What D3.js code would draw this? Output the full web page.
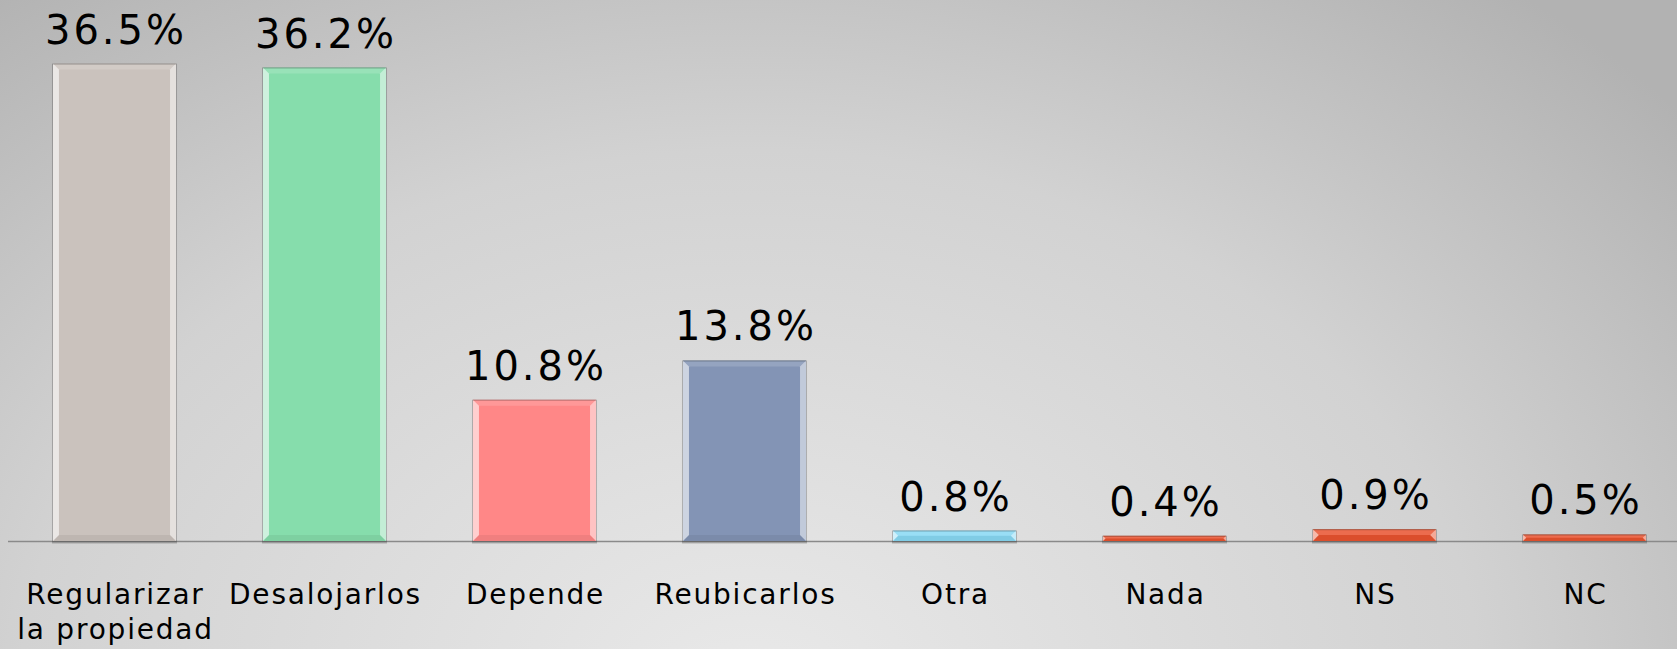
<!DOCTYPE html>
<html>
<head>
<meta charset="utf-8">
<script src="https://cdn.jsdelivr.net/npm/d3@7"></script>
<style>
  html, body { margin: 0; padding: 0; overflow: hidden; }
  svg { display: block; }
</style>
</head>
<body>
<div id="chart"></div>
<script>
var categories = ["Regularizar\nla propiedad", "Desalojarlos", "Depende", "Reubicarlos", "Otra", "Nada", "NS", "NC"];
var values = [36.5, 36.2, 10.8, 13.8, 0.8, 0.4, 0.9, 0.5];
var barColors = ["#cac2bd", "#86ddac", "#ff8787", "#8394b5", "#88d9f4", "#e9532f", "#e9532f", "#e9532f"];

function init() {
    var w = 1677;
    var h = 649;
    var baseY = 541;

    var svg = d3.select("#chart")
        .append("svg")
        .attr("width", w)
        .attr("height", h);

    var defs = svg.append("defs");
    var bg = defs.append("radialGradient")
        .attr("id", "bg")
        .attr("gradientUnits", "userSpaceOnUse")
        .attr("cx", 750).attr("cy", 690)
        .attr("r", 900)
        .attr("gradientTransform", "translate(750,690) scale(1.35,1) translate(-750,-690)");
    bg.append("stop").attr("offset", "0%").attr("stop-color", "#e9e9e9");
    bg.append("stop").attr("offset", "60%").attr("stop-color", "#d2d2d2");
    bg.append("stop").attr("offset", "100%").attr("stop-color", "#b2b2b2");

    svg.append("rect")
        .attr("width", w)
        .attr("height", h)
        .attr("fill", "url(#bg)");

    var data = categories.map(function(c, i) {
        return { cat: c, value: values[i], color: barColors[i] };
    });

    var xScale = d3.scaleBand()
        .domain(categories)
        .range([9.5, 1689.5])
        .paddingInner(0.414)
        .paddingOuter(0.207);

    var yScale = d3.scaleLinear()
        .domain([0, 40])
        .range([baseY, baseY - 40 * 13.08]);

    // axis line
    svg.append("line")
        .attr("x1", 8).attr("x2", w)
        .attr("y1", baseY + 0.5).attr("y2", baseY + 0.5)
        .attr("stroke", "#8a8a8a")
        .attr("stroke-width", 1.5);

    var bars = svg.selectAll("g.bar")
        .data(data)
        .enter()
        .append("g")
        .attr("class", "bar");

    // shadow
    bars.append("rect")
        .attr("x", function(d) { return xScale(d.cat) - 1; })
        .attr("y", function(d) { return yScale(d.value); })
        .attr("width", xScale.bandwidth() + 2)
        .attr("height", function(d) { return baseY - yScale(d.value) + 2.5; })
        .attr("fill", "rgba(0,0,0,0.22)");

    bars.append("rect")
        .attr("x", function(d) { return xScale(d.cat); })
        .attr("y", function(d) { return yScale(d.value); })
        .attr("width", xScale.bandwidth())
        .attr("height", function(d) { return baseY - yScale(d.value); })
        .attr("fill", function(d) { return d.color; });

    // bevel edges
    function bevel(d, side) {
        var x0 = xScale(d.cat), x1 = x0 + xScale.bandwidth();
        var y0 = yScale(d.value), y1 = baseY;
        var b = Math.min(6, (y1 - y0) / 2);
        if (side === "left") return [[x0, y0], [x0 + b, y0 + b], [x0 + b, y1 - b], [x0, y1]];
        if (side === "right") return [[x1, y0], [x1 - b, y0 + b], [x1 - b, y1 - b], [x1, y1]];
        if (side === "top") return [[x0, y0], [x1, y0], [x1 - b, y0 + b], [x0 + b, y0 + b]];
        return [[x0, y1], [x1, y1], [x1 - b, y1 - b], [x0 + b, y1 - b]];
    }
    var bevelStyle = { left: "rgba(255,255,255,0.6)", right: "rgba(255,255,255,0.5)", top: "rgba(255,255,255,0.15)", bottom: "rgba(0,0,0,0.06)" };
    ["left", "right", "top", "bottom"].forEach(function(side) {
        bars.append("polygon")
            .attr("points", function(d) { return bevel(d, side).join(" "); })
            .attr("fill", bevelStyle[side]);
    });

    // top border
    bars.append("line")
        .attr("x1", function(d) { return xScale(d.cat); })
        .attr("x2", function(d) { return xScale(d.cat) + xScale.bandwidth(); })
        .attr("y1", function(d) { return yScale(d.value) + 0.5; })
        .attr("y2", function(d) { return yScale(d.value) + 0.5; })
        .attr("stroke", "rgba(0,0,0,0.25)")
        .attr("stroke-width", 1);

    // value labels
    svg.selectAll("text.value")
        .data(data)
        .enter()
        .append("text")
        .attr("class", "value")
        .attr("x", function(d) { return xScale(d.cat) + xScale.bandwidth() / 2 + 1.5; })
        .attr("y", function(d) { return yScale(d.value) - 20; })
        .attr("text-anchor", "middle")
        .attr("font-family", "DejaVu Sans")
        .attr("font-size", 40)
        .attr("letter-spacing", 3)
        .attr("fill", "#000")
        .text(function(d) { return d.value.toFixed(1) + "%"; });

    // category labels
    var labels = svg.selectAll("text.cat")
        .data(data)
        .enter()
        .append("text")
        .attr("class", "cat")
        .attr("text-anchor", "middle")
        .attr("font-family", "DejaVu Sans")
        .attr("font-size", 28)
        .attr("letter-spacing", 1.8)
        .attr("fill", "#000");

    labels.each(function(d) {
        var lines = d.cat.split("\n");
        var t = d3.select(this);
        lines.forEach(function(line, i) {
            t.append("tspan")
                .attr("x", xScale(d.cat) + xScale.bandwidth() / 2 + 1)
                .attr("y", 604 + i * 35)
                .text(line);
        });
    });
}

window.onload = init;
</script>
</body>
</html>
